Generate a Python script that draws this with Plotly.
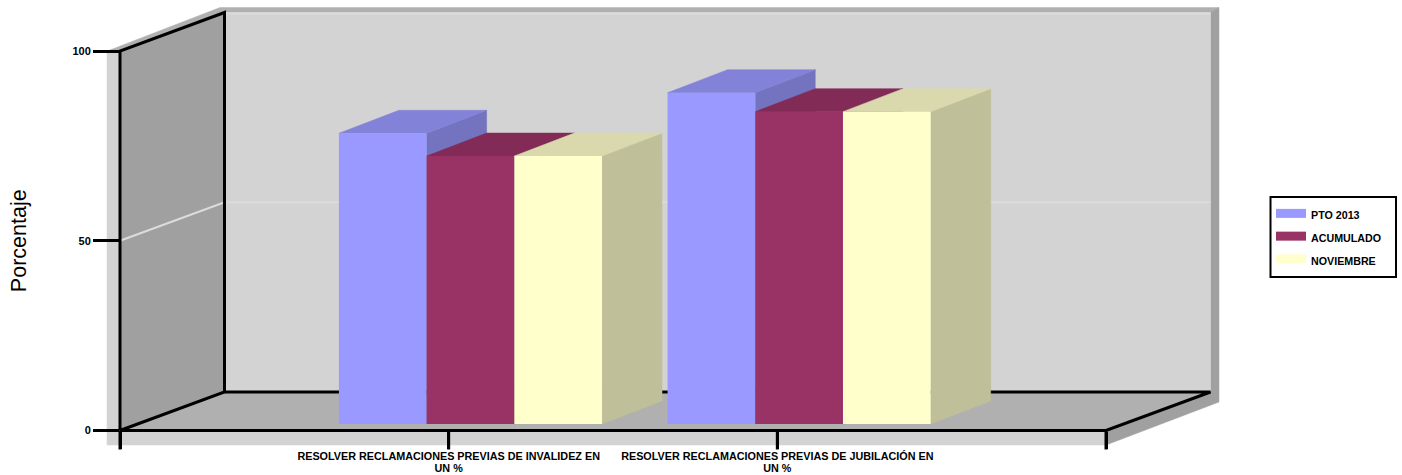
import plotly.graph_objects as go

# ---- data ----
categories = ["RESOLVER RECLAMACIONES PREVIAS DE INVALIDEZ EN<br>UN %",
              "RESOLVER RECLAMACIONES PREVIAS DE JUBILACIÓN EN<br>UN %"]
pto_2013 = [76.6, 87.3]
acumulado = [70.6, 82.3]
noviembre = [70.6, 82.3]
y_ticks = [0, 50, 100]
series_names = ["PTO 2013", "ACUMULADO", "NOVIEMBRE"]
front_colors = ["#9999FF", "#993366", "#FFFFCC"]
top_colors = ["#8282D9", "#822B57", "#D9D9AD"]
side_colors = ["#7373BF", "#6F2A4E", "#BFBF99"]

# ---- page geometry (pixels) ----
W, H = 1402, 475
FONT = "Liberation Sans, Arial, sans-serif"
X0_PX, X1_PX = 120.0, 1106.0      # front axis ends
Y0_PX, Y100_PX = 430.5, 51.0      # value 0 and value 100 on the front plane
X_RANGE = [-1, 2]
Y_RANGE = [0, 100]
sx = (X_RANGE[1] - X_RANGE[0]) / (X1_PX - X0_PX)   # data units per px
sy = (Y_RANGE[1] - Y_RANGE[0]) / (Y0_PX - Y100_PX)


def dx(px):
    return px * sx


def dy(px):
    return px * sy


def X(px):
    return X_RANGE[0] + (px - X0_PX) * sx


def Y(px):
    return (Y0_PX - px) * sy


WALL_DX, WALL_DY = dx(104.5), dy(38.5)   # depth of the box
BAR_DX, BAR_DY = dx(60), dy(23)          # depth of a bar
BAR_BASE = dy(6.5)                       # bars stand a little behind the front edge
BAR_W = dx(87.7)
GROUP_SHIFT = dx(21.8)
X_TICK_PX = 19                           # full length of the category ticks
X_TICK_REAL_PX = 17.5                    # part drawn by the axis; it also places the labels

fig = go.Figure()


def poly(xs, ys, color):
    fig.add_trace(go.Scatter(x=list(xs) + [xs[0]], y=list(ys) + [ys[0]], mode="lines",
                             fill="toself", fillcolor=color,
                             line=dict(width=0.5, color=color),
                             hoverinfo="skip", showlegend=False,
                             xaxis="x", yaxis="y"))


def line(xs, ys, color, width):
    fig.add_trace(go.Scatter(x=xs, y=ys, mode="lines", line=dict(width=width, color=color),
                             hoverinfo="skip", showlegend=False, xaxis="x", yaxis="y"))


L, R = X_RANGE
B, T = Y_RANGE
x_tick_vals = [-1, 0, 1, 2]
# outer slab
slab_l, slab_b, slab_r, slab_t = X(107), Y(445), X(1219), Y(7.5)
poly([slab_l, L, L, slab_l], [Y(52), Y(51), slab_b, slab_b], "#D3D3D3")
poly([L, R, R, L], [B, B, slab_b, slab_b], "#D3D3D3")
poly([X(110), L, L + WALL_DX, R + WALL_DX, slab_r, X(220)],
     [Y(50), T, T + WALL_DY, T + WALL_DY, slab_t, slab_t], "#B0B0B0")
poly([R, R + WALL_DX, R + WALL_DX, slab_r, slab_r, R],
     [B, B + WALL_DY, T + WALL_DY, slab_t, Y(402), slab_b], "#A0A0A0")
# walls and floor
poly([L + WALL_DX, R + WALL_DX, R + WALL_DX, L + WALL_DX],
     [B + WALL_DY, B + WALL_DY, T + WALL_DY, T + WALL_DY], "#D3D3D3")
poly([L, L + WALL_DX, L + WALL_DX, L], [B, B + WALL_DY, T + WALL_DY, T], "#A0A0A0")
poly([L, L + WALL_DX, R + WALL_DX, R], [B, B + WALL_DY, B + WALL_DY, B], "#B0B0B0")
# gridline at every inner tick and the light top rim
for v in y_ticks[1:-1]:
    line([L, L + WALL_DX, R + WALL_DX], [v, v + WALL_DY, v + WALL_DY], "#DCDCDC", 2)
line([L + WALL_DX, R + WALL_DX], [T + WALL_DY - dy(1), T + WALL_DY - dy(1)], "#DCDCDC", 2)
# box edges and the front axis lines
line([L, L, L + WALL_DX, L + WALL_DX, L, None, L + WALL_DX, R + WALL_DX, R, L],
     [B, T, T + WALL_DY, B + WALL_DY, B, None, B + WALL_DY, B + WALL_DY, B, B], "#000000", 3)
# category ticks reach further down than the label offset
tick_xs, tick_ys = [], []
for v in x_tick_vals:
    tick_xs += [v, v, None]
    tick_ys += [B, -dy(X_TICK_PX), None]
line(tick_xs, tick_ys, "#000000", 3)

# bar top and side faces, left to right
all_series = [pto_2013, acumulado, noviembre]
for g in range(len(categories)):
    for s, vals in enumerate(all_series):
        x0 = g + GROUP_SHIFT + (s - 1.5) * BAR_W
        x1 = x0 + BAR_W
        top = BAR_BASE + vals[g]
        poly([x1, x1 + BAR_DX, x1 + BAR_DX, x1],
             [BAR_BASE, BAR_BASE + BAR_DY, top + BAR_DY, top], side_colors[s])
        poly([x0, x1, x1 + BAR_DX, x0 + BAR_DX],
             [top, top, top + BAR_DY, top + BAR_DY], top_colors[s])

# bar front faces, on the real axes
for s, vals in enumerate(all_series):
    fig.add_trace(go.Bar(x=[g + GROUP_SHIFT + (s - 1) * BAR_W for g in range(len(categories))],
                         y=vals, base=BAR_BASE, width=BAR_W, name=series_names[s],
                         marker=dict(color=front_colors[s], line=dict(width=0)),
                         legendgroup=series_names[s], showlegend=False,
                         xaxis="x2", yaxis="y2"))
    # wide line swatch for the legend
    fig.add_trace(go.Scatter(x=[None], y=[None], mode="lines",
                             name=f'<span style="font-size:10.7px;font-weight:bold">{series_names[s]}</span>',
                             line=dict(color=front_colors[s], width=9),
                             legendgroup=series_names[s], xaxis="x2", yaxis="y2"))

# the axis font size sets the line spacing; the span sets the glyph size
cat_ticktext = [""] + [f'<span style="font-size:10.8px">{c}</span>'.replace(
    "<br>", '</span><br><span style="font-size:10.8px">') for c in categories] + [""]

fig.update_layout(
    width=W, height=H, margin=dict(l=0, r=0, t=0, b=0, pad=0, autoexpand=False),
    paper_bgcolor="#FFFFFF", plot_bgcolor="rgba(0,0,0,0)",
    barmode="overlay", font=dict(family=FONT, color="#000000"),
    xaxis=dict(domain=[0, 1], range=[X(0), X(W)], visible=False, fixedrange=True),
    yaxis=dict(domain=[0, 1], range=[Y(H), Y(0)], visible=False, fixedrange=True),
    xaxis2=dict(domain=[X0_PX / W, X1_PX / W], range=X_RANGE, anchor="y2", fixedrange=True,
                showgrid=False, zeroline=False, showline=False, automargin=False,
                ticks="outside", ticklen=X_TICK_REAL_PX, tickwidth=3, tickcolor="#000000",
                tickmode="array", tickvals=x_tick_vals, ticktext=cat_ticktext,
                tickangle=0, tickfont=dict(family=FONT, size=9.3, color="#000000", weight="bold")),
    yaxis2=dict(domain=[1 - Y0_PX / H, 1 - Y100_PX / H], range=Y_RANGE, anchor="x2", fixedrange=True,
                showgrid=False, zeroline=False, showline=False, automargin=False,
                ticks="outside", ticklen=26, tickwidth=3, tickcolor="#000000",
                tickmode="array", tickvals=y_ticks,
                tickfont=dict(family=FONT, size=11, color="#000000", weight="bold"),
                title=dict(text="Porcentaje", font=dict(family=FONT, size=21.5, color="#000000"),
                           standoff=39)),
    legend=dict(x=1271 / W, y=1 - 197 / H, xanchor="left", yanchor="top",
                bgcolor="rgba(0,0,0,0)", borderwidth=0, tracegroupgap=0,
                font=dict(family=FONT, size=15.2, color="#000000"), itemwidth=30,
                itemclick=False, itemdoubleclick=False),
    shapes=[dict(type="rect", xref="paper", yref="paper", x0=1270.5 / W, x1=1396 / W,
                 y0=1 - 277 / H, y1=1 - 197 / H, fillcolor="#FFFFFF",
                 line=dict(color="#000000", width=2), layer="below")],
)

fig.write_html("out.html", config={"displayModeBar": False},
               post_script="document.body.style.margin='0';")
